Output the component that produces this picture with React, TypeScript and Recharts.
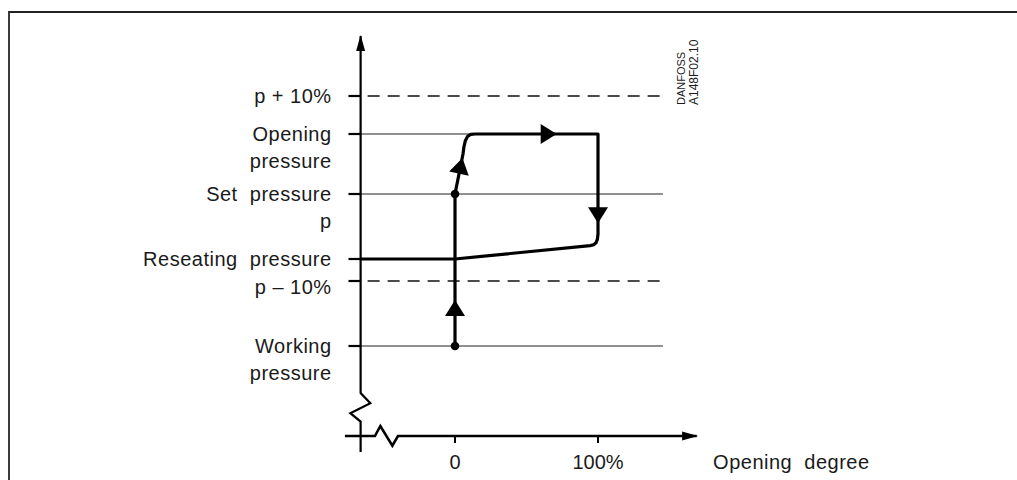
import React from "react";
import { ComposedChart, Line, XAxis, YAxis, ReferenceLine } from "recharts";

// pressure levels (arbitrary units, x-axis = 0)
const levelValues = [85, 75.5, 60.5, 44.25, 38.75, 22.5];
const levelLabels = [
    ["p + 10%"],
    ["Opening", "pressure"],
    ["Set  pressure", "p"],
    ["Reseating  pressure"],
    ["p \u2013 10%"],
    ["Working", "pressure"],
];
const levelLineEnd = [145.5, 100, 145.5, null, 145.5, 145.5];
const levelDashed = [true, false, false, false, true, false];

const degreeTicks = [0, 100];
const degreeTickLabels = ["0", "100%"];

// opening / closing loop of the valve
const hysteresisCurve = [
    { x: 0, y: 60.5 },
    { x: 5.6, y: 70.5 },
    { x: 6.2, y: 72.2 },
    { x: 7.2, y: 73.8 },
    { x: 8.8, y: 74.9 },
    { x: 11, y: 75.4 },
    { x: 14, y: 75.5 },
    { x: 100, y: 75.5 },
    { x: 100, y: 50.5 },
    { x: 99.6, y: 49.2 },
    { x: 98.6, y: 48.3 },
    { x: 97, y: 47.8 },
    { x: 94.5, y: 47.6 },
    { x: 0, y: 44.25 },
    { x: -66, y: 44.25 },
];
const risePath = [
    { x: 0, y: 22.5 },
    { x: 0, y: 60.5 },
];
const markerDots = [
    { x: 0, y: 60.5 },
    { x: 0, y: 22.5 },
];
const flowArrows = [
    { x: 5.2, y: 69.5, angle: -77.5 },
    { x: 0, y: 34, angle: -90 },
    { x: 71.1, y: 75.5, angle: 0 },
    { x: 100, y: 53.2, angle: 90 },
];

// axes with break marks
const yAxisPath = [
    { x: -66, y: 100 },
    { x: -66, y: 10.75 },
    { x: -59.2, y: 8.2 },
    { x: -73.2, y: 5.7 },
    { x: -66, y: 3.6 },
    { x: -66, y: -4 },
];
const xAxisPath = [
    { x: -77, y: 0 },
    { x: -56, y: 0 },
    { x: -52.2, y: 2.5 },
    { x: -43.8, y: -2.4 },
    { x: -39.9, y: 0 },
    { x: 169, y: 0 },
];
const axisArrows = [
    { x: -66, y: 100.25, angle: -90 },
    { x: 170, y: 0, angle: 0 },
];

const FONT = '"Liberation Sans", Arial, sans-serif';
const INK = "#1a1a1a";

const arrowDot = (len: number, half: number) => (props: any) => {
    const { cx, cy, payload, index } = props;
    if (cx == null || cy == null) return <g key={index} />;
    return (
        <polygon
            key={index}
            points={`0,0 ${-len},${-half} ${-len},${half}`}
            transform={`translate(${cx},${cy}) rotate(${payload.angle})`}
            fill="#000"
        />
    );
};

function LevelTick(props: any) {
    const { x, y, payload } = props;
    const i = levelValues.indexOf(payload.value);
    if (i < 0) return null;
    const shift = i === 4 ? 6 : 0;
    return (
        <text x={x} y={y + shift} textAnchor="end" fontSize={20} fill={INK}
            fontFamily={FONT} letterSpacing={0.5} style={{ whiteSpace: "pre" }}>
            {levelLabels[i].map((line, k) => (
                <tspan key={k} x={x} dy={k === 0 ? "0.36em" : 27}>{line}</tspan>
            ))}
        </text>
    );
}

function AxisTitle(props: any) {
    const vb = props.viewBox || {};
    return (
        <text x={vb.x + vb.width + 15} y={vb.y + 10} dy="0.36em" fontSize={20} fill={INK}
            fontFamily={FONT} letterSpacing={0.5} style={{ whiteSpace: "pre" }}>
            Opening  degree
        </text>
    );
}

export default function App() {
    return (
        <div style={{ position: "fixed", left: 0, top: 0, width: 1017, height: 480, background: "#fff", overflow: "hidden" }}>
            <div style={{
                position: "absolute", left: 8, top: 11, width: 1020, height: 480,
                borderLeft: "2px solid #3a3a3a", borderTop: "2px solid #222",
            }} />
            <ComposedChart
                width={1017}
                height={480}
                margin={{ top: 32, right: 318.9, bottom: 0, left: 40.6 }}
                style={{ position: "absolute", left: 0, top: 0, fontFamily: FONT }}
            >
                <XAxis
                    dataKey="x"
                    type="number"
                    domain={[-80, 170]}
                    ticks={degreeTicks}
                    interval={0}
                    tickFormatter={(v) => degreeTickLabels[degreeTicks.indexOf(v)]}
                    axisLine={false}
                    tickLine={false}
                    tickSize={0}
                    tickMargin={3}
                    height={28}
                    tick={{ fontSize: 20, fill: INK, fontFamily: FONT }}
                    label={(p: any) => <AxisTitle {...p} />}
                />
                <YAxis
                    type="number"
                    domain={[-4, 101]}
                    ticks={levelValues}
                    interval={0}
                    axisLine={false}
                    tickLine={false}
                    tickSize={0}
                    tickMargin={9}
                    width={300}
                    tick={(p: any) => <LevelTick {...p} />}
                />

                {levelValues.map((v, i) =>
                    levelLineEnd[i] == null ? null : (
                        <ReferenceLine
                            key={`lvl-${i}`}
                            segment={[{ x: -66, y: v }, { x: levelLineEnd[i] as number, y: v }]}
                            stroke={levelDashed[i] ? "#111" : "#222"}
                            strokeWidth={levelDashed[i] ? 1.3 : 1.1}
                            strokeDasharray={levelDashed[i] ? "12 8" : undefined}
                            strokeDashoffset={levelDashed[i] ? 13 : undefined}
                            ifOverflow="visible"
                        />
                    )
                )}
                {levelValues.map((v, i) => (
                    <ReferenceLine
                        key={`tick-${i}`}
                        segment={[{ x: -74.5, y: v }, { x: -66, y: v }]}
                        stroke="#000"
                        strokeWidth={2.2}
                        ifOverflow="visible"
                    />
                ))}
                {degreeTicks.map((t) => (
                    <ReferenceLine
                        key={`xt-${t}`}
                        segment={[{ x: t, y: 0 }, { x: t, y: -1.75 }]}
                        stroke="#000"
                        strokeWidth={2}
                        ifOverflow="visible"
                    />
                ))}

                <Line data={yAxisPath} dataKey="y" type="linear" stroke="#000" strokeWidth={2.2}
                    dot={false} activeDot={false} isAnimationActive={false} />
                <Line data={xAxisPath} dataKey="y" type="linear" stroke="#000" strokeWidth={2.6}
                    dot={false} activeDot={false} isAnimationActive={false} />
                <Line data={axisArrows} dataKey="y" type="linear" stroke="none"
                    dot={arrowDot(16, 4.5)} activeDot={false} isAnimationActive={false} />

                <Line data={hysteresisCurve} dataKey="y" type="linear" stroke="#000" strokeWidth={3.2}
                    strokeLinejoin="round" dot={false} activeDot={false} isAnimationActive={false} />
                <Line data={risePath} dataKey="y" type="linear" stroke="#000" strokeWidth={3.2}
                    dot={false} activeDot={false} isAnimationActive={false} />
                <Line data={markerDots} dataKey="y" type="linear" stroke="none"
                    dot={{ r: 4.3, fill: "#000", stroke: "none" }} activeDot={false} isAnimationActive={false} />
                <Line data={flowArrows} dataKey="y" type="linear" stroke="none"
                    dot={arrowDot(16, 10)} activeDot={false} isAnimationActive={false} />
            </ComposedChart>
            <svg width={1017} height={480} style={{ position: "absolute", left: 0, top: 0, pointerEvents: "none" }}>
                <text transform="translate(685,105) rotate(-90)" fontSize={11} fill={INK} fontFamily={FONT}>
                    DANFOSS
                </text>
                <text transform="translate(697.5,105) rotate(-90)" fontSize={12} fill={INK} fontFamily={FONT}>
                    A148F02.10
                </text>
            </svg>
        </div>
    );
}
